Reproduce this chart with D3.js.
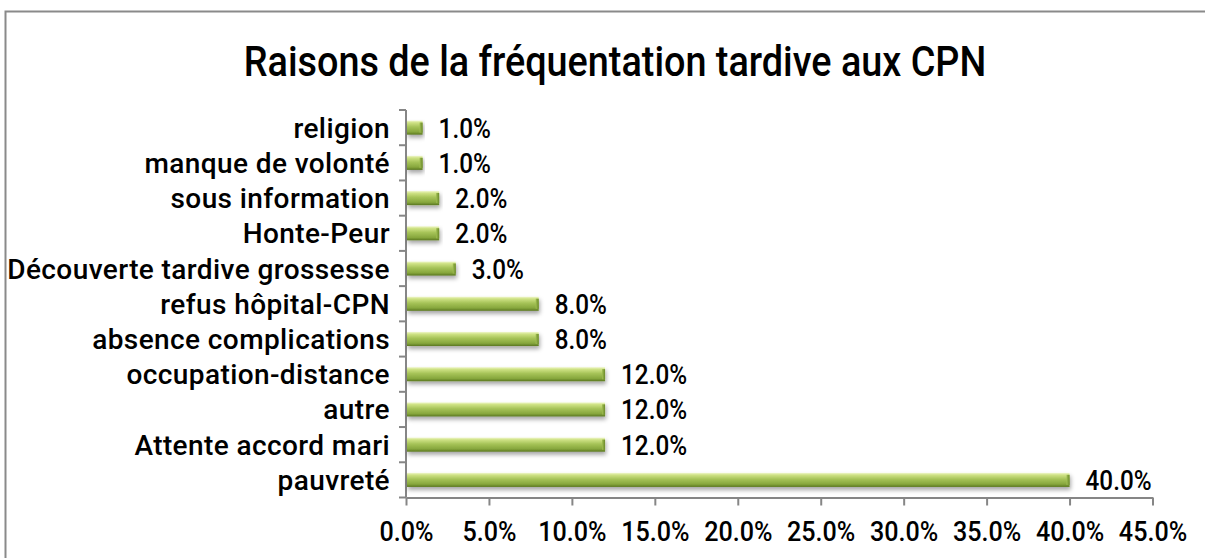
<!DOCTYPE html>
<html>
<head>
<meta charset="utf-8">
<script src="https://cdn.jsdelivr.net/npm/d3@7"></script>
<style>
  html, body { margin: 0; padding: 0; background: #fff; }
  svg { display: block; }
  text { font-family: Roboto, "Noto Sans", sans-serif; font-weight: 500; fill: #000; }
</style>
</head>
<body>
<svg id="chart" width="1205" height="558"></svg>
<script>
// ---- data ----
const title = "Raisons de la fréquentation tardive aux CPN";
const categories = ["pauvreté", "Attente accord mari", "autre", "occupation-distance",
  "absence complications", "refus hôpital-CPN", "Découverte tardive grossesse",
  "Honte-Peur", "sous information", "manque de volonté", "religion"];
const values = [40, 12, 12, 12, 8, 8, 3, 2, 2, 1, 1];
const xTickValues = [0, 5, 10, 15, 20, 25, 30, 35, 40, 45];

// ---- layout ----
const plot = { left: 406, right: 1152.5, top: 110, bottom: 497.5 };

const svg = d3.select("#chart");

// defs: gradient + shadow
const defs = svg.append("defs");
const grad = defs.append("linearGradient").attr("id", "barGrad")
  .attr("x1", 0).attr("y1", 0).attr("x2", 0).attr("y2", 1);
[["0%", "#f0f7cc"], ["15%", "#cfe285"], ["45%", "#a6c358"], ["80%", "#87a73d"], ["100%", "#5a7720"]]
  .forEach(([o, c]) => grad.append("stop").attr("offset", o).attr("stop-color", c));
const capGrad = defs.append("linearGradient").attr("id", "capGrad")
  .attr("x1", 0).attr("y1", 0).attr("x2", 1).attr("y2", 0);
[["0%", "#a0bf52"], ["100%", "#6a8829"]]
  .forEach(([o, c]) => capGrad.append("stop").attr("offset", o).attr("stop-color", c));
const f = defs.append("filter").attr("id", "shadow")
  .attr("x", "-5%").attr("y", "-40%").attr("width", "115%").attr("height", "200%");
f.append("feDropShadow").attr("dx", 1).attr("dy", 3).attr("stdDeviation", 2)
  .attr("flood-color", "#000").attr("flood-opacity", 0.35);

// outer border (clipped by the window on right/bottom)
svg.append("rect").attr("x", 5.5).attr("y", 11.5).attr("width", 1300).attr("height", 700)
  .attr("fill", "#fff").attr("stroke", "#8a8a8a").attr("stroke-width", 2);

// title
svg.append("g").attr("transform", `translate(615,76) scale(0.9,1)`)
  .append("text").attr("text-anchor", "middle").attr("font-size", 42)
  .text(title);

// scales
const x = d3.scaleLinear().domain([0, 45]).range([plot.left, plot.right]);
const y = d3.scaleBand().domain(categories.slice().reverse())
  .range([plot.top, plot.bottom]).paddingInner(0.6).paddingOuter(0.3);

const axisColor = "#868686";

// x axis
const xAxis = svg.append("g").attr("transform", `translate(0,${plot.bottom})`)
  .call(d3.axisBottom(x).tickValues(xTickValues).tickSize(8).tickSizeOuter(0)
    .tickFormat(d => d.toFixed(1) + "%"));
xAxis.select(".domain").attr("stroke", axisColor).attr("stroke-width", 2);
xAxis.selectAll(".tick line").attr("stroke", axisColor).attr("stroke-width", 2);
xAxis.selectAll(".tick text").attr("font-size", 27).attr("fill", "#000")
  .attr("y", 44).attr("dy", 0)
  .attr("transform", `scale(0.93,1)`)
  .style("font-family", "Roboto, sans-serif").style("font-weight", 500);

// y axis (ticks at band boundaries)
const yAxis = svg.append("g");
yAxis.append("line").attr("x1", plot.left).attr("x2", plot.left)
  .attr("y1", plot.top).attr("y2", plot.bottom)
  .attr("stroke", axisColor).attr("stroke-width", 2);
const boundaries = d3.range(categories.length + 1).map(i => plot.top + i * y.step());
yAxis.selectAll("line.tk").data(boundaries).join("line").attr("class", "tk")
  .attr("x1", plot.left - 7).attr("x2", plot.left)
  .attr("y1", d => d).attr("y2", d => d)
  .attr("stroke", axisColor).attr("stroke-width", 2);
yAxis.selectAll("g.lbl").data(categories).join("g").attr("class", "lbl")
  .attr("transform", d => `translate(390,${y(d) + y.bandwidth() / 2 + 10})`)
  .append("text").attr("text-anchor", "end").attr("font-size", 28)
  .attr("letter-spacing", 0.4).text(d => d);

// bars
const rows = categories.map((c, i) => ({ c, v: values[i] }));
const bars = svg.append("g");
const bg = bars.selectAll("g.bar").data(rows).join("g").attr("class", "bar")
  .attr("filter", "url(#shadow)");
bg.append("rect")
  .attr("x", x(0) + 1).attr("y", d => y(d.c))
  .attr("width", d => x(d.v) - x(0) - 1).attr("height", y.bandwidth())
  .attr("fill", "url(#barGrad)");
bg.append("rect")
  .attr("x", d => x(d.v) - 3).attr("y", d => y(d.c) + 2)
  .attr("width", 3).attr("height", y.bandwidth() - 4)
  .attr("fill", "url(#capGrad)");

// data labels
svg.append("g").selectAll("g.val").data(rows).join("g").attr("class", "val")
  .attr("transform", d => `translate(${x(d.v) + 16},${y(d.c) + y.bandwidth() / 2 + 10}) scale(0.9,1)`)
  .append("text").attr("font-size", 27).text(d => d.v.toFixed(1) + "%");
</script>
</body>
</html>
